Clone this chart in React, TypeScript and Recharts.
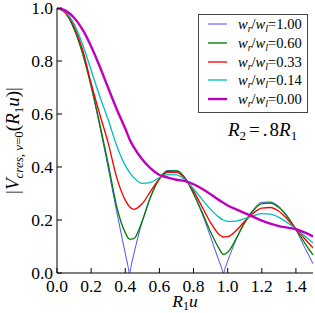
import React from "react";
import { LineChart, Line, XAxis, YAxis, Legend, Customized } from "recharts";

const SERIF = "'Liberation Serif', 'Times New Roman', serif";

// shared sampling in R1*u
const xValues = [0, 0.05, 0.1, 0.15, 0.2, 0.25, 0.3, 0.35, 0.4, 0.425, 0.45, 0.5, 0.55, 0.6, 0.65, 0.7, 0.75, 0.8, 0.85, 0.9, 0.95, 0.975, 1.0, 1.05, 1.1, 1.15, 1.2, 1.25, 1.3, 1.35, 1.4, 1.45, 1.5];

// w_r/w_l = 1.00 goes to zero with sharp cusps, so it gets a few extra samples near them
const blueX = [0, 0.05, 0.1, 0.15, 0.2, 0.25, 0.3, 0.35, 0.4, 0.415, 0.425, 0.435, 0.45, 0.5, 0.55, 0.6, 0.65, 0.7, 0.75, 0.8, 0.85, 0.9, 0.95, 0.965, 0.975, 0.985, 1.0, 1.05, 1.1, 1.15, 1.2, 1.25, 1.3, 1.35, 1.4, 1.45, 1.5];
const ratio100 = [1.0, 0.98, 0.92, 0.826, 0.702, 0.555, 0.396, 0.231, 0.074, 0.029, 0.0, 0.029, 0.071, 0.196, 0.29, 0.357, 0.387, 0.387, 0.36, 0.298, 0.224, 0.136, 0.044, 0.018, 0.0, 0.018, 0.045, 0.127, 0.193, 0.239, 0.267, 0.268, 0.251, 0.215, 0.163, 0.098, 0.035];

const ratio060 = [1.0, 0.981, 0.922, 0.83, 0.707, 0.565, 0.412, 0.25, 0.152, 0.128, 0.13, 0.197, 0.29, 0.355, 0.384, 0.385, 0.358, 0.3, 0.23, 0.155, 0.092, 0.07, 0.078, 0.13, 0.19, 0.236, 0.262, 0.264, 0.247, 0.212, 0.165, 0.115, 0.068];
const ratio033 = [1.0, 0.982, 0.93, 0.843, 0.716, 0.6, 0.49, 0.36, 0.275, 0.25, 0.24, 0.262, 0.31, 0.355, 0.38, 0.38, 0.357, 0.31, 0.25, 0.19, 0.145, 0.136, 0.137, 0.16, 0.195, 0.226, 0.245, 0.247, 0.233, 0.203, 0.166, 0.13, 0.094];
const ratio014 = [1.0, 0.985, 0.94, 0.862, 0.765, 0.668, 0.578, 0.48, 0.405, 0.38, 0.36, 0.338, 0.342, 0.36, 0.371, 0.37, 0.352, 0.318, 0.278, 0.24, 0.21, 0.2, 0.195, 0.196, 0.205, 0.216, 0.224, 0.222, 0.21, 0.19, 0.166, 0.14, 0.114];
const ratio000 = [1.0, 0.99, 0.963, 0.918, 0.855, 0.78, 0.698, 0.618, 0.545, 0.505, 0.475, 0.428, 0.394, 0.37, 0.36, 0.352, 0.347, 0.335, 0.318, 0.297, 0.275, 0.265, 0.255, 0.24, 0.226, 0.212, 0.198, 0.186, 0.177, 0.171, 0.165, 0.153, 0.138];

const xTicks = [0, 0.2, 0.4, 0.6, 0.8, 1.0, 1.2, 1.4];
const yTicks = [0, 0.2, 0.4, 0.6, 0.8, 1.0];

const series = [
  { key: "b", label: "1.00", color: "#4d4dff", width: 1 },
  { key: "g", label: "0.60", color: "#008000", width: 1.35 },
  { key: "r", label: "0.33", color: "#ff0000", width: 1.35 },
  { key: "c", label: "0.14", color: "#00bfbf", width: 1.35 },
  { key: "m", label: "0.00", color: "#bf00bf", width: 2.4 },
];

const data = xValues.map((x, i) => ({
  x,
  g: ratio060[i],
  r: ratio033[i],
  c: ratio014[i],
  m: ratio000[i],
}));
const blueData = blueX.map((x, i) => ({ x, b: ratio100[i] }));

const TICK = 5;

const BottomTick = ({ x, y, payload }: any) => (
  <g>
    <line x1={x} x2={x} y1={y} y2={y - TICK} stroke="#000" />
    <text x={x} y={y + 19} textAnchor="middle" fontSize={17.5} fontFamily={SERIF} fill="#000">
      {Number(payload.value).toFixed(1)}
    </text>
  </g>
);
const TopTick = ({ x, y }: any) => <line x1={x} x2={x} y1={y} y2={y + TICK} stroke="#000" />;
const LeftTick = ({ x, y, payload }: any) => (
  <g>
    <line x1={x} x2={x + TICK} y1={y} y2={y} stroke="#000" />
    <text x={x - 4} y={y} dy="0.35em" textAnchor="end" fontSize={17.5} fontFamily={SERIF} fill="#000">
      {Number(payload.value).toFixed(1)}
    </text>
  </g>
);
const RightTick = ({ x, y }: any) => <line x1={x} x2={x - TICK} y1={y} y2={y} stroke="#000" />;

const subStyle: React.CSSProperties = { fontSize: 10, fontStyle: "italic", position: "relative", top: 3 };

const LegendBox = () => (
  <div
    style={{
      position: "relative",
      width: 110,
      height: 99,
      boxSizing: "border-box",
      border: "1px solid #444",
      background: "#fff",
      fontFamily: SERIF,
      color: "#000",
    }}
  >
    {series.map((s, i) => (
      <div key={s.key} style={{ position: "absolute", left: 0, top: 9 + i * 18.8 - 9, width: 108, height: 18 }}>
        <svg width={22} height={18} style={{ position: "absolute", left: 9, top: 0 }}>
          <line x1={0} x2={19} y1={9} y2={9} stroke={s.color} strokeWidth={s.width} />
        </svg>
        <span style={{ position: "absolute", left: 39, top: 0, lineHeight: "18px", fontSize: 14.5, whiteSpace: "nowrap" }}>
          <i>w</i>
          <span style={subStyle}>r</span>/<i>w</i>
          <span style={subStyle}>l</span>={s.label}
        </span>
      </div>
    ))}
  </div>
);

const Texts = () => (
  <g fontFamily={SERIF} fill="#000">
    <text x={228} y={136} fontSize={19}>
      <tspan fontStyle="italic">R</tspan>
      <tspan fontSize={13} dy={4}>2</tspan>
      <tspan dy={-4} dx={3}>=</tspan>
      <tspan dx={3}>.</tspan>
      <tspan dx={2}>8</tspan>
      <tspan fontStyle="italic">R</tspan>
      <tspan fontSize={13} dy={4}>1</tspan>
    </text>
    <text x={185} y={307} fontSize={17.5} textAnchor="middle">
      <tspan fontStyle="italic">R</tspan>
      <tspan fontSize={12} dy={3}>1</tspan>
      <tspan dy={-3} fontStyle="italic">u</tspan>
    </text>
    <text transform="rotate(-90 19 140.5)" x={19} y={140.5} fontSize={19} textAnchor="middle">
      |<tspan fontStyle="italic">V</tspan>
      <tspan fontSize={13} dy={4} fontStyle="italic">cres, ν</tspan>
      <tspan fontSize={13}>=0</tspan>
      <tspan dy={-4}>(</tspan>
      <tspan fontStyle="italic">R</tspan>
      <tspan fontSize={13} dy={4}>1</tspan>
      <tspan dy={-4} fontStyle="italic">u</tspan>)|
    </text>
  </g>
);

export default function App() {
  return (
    <div style={{ position: "absolute", left: 0, top: 0, background: "#fff" }}>
      <LineChart width={315} height={313} data={data} margin={{ top: 8, right: 2, bottom: 0, left: 0 }}>
        <XAxis
          xAxisId="bottom"
          dataKey="x"
          type="number"
          domain={[0, 1.5]}
          ticks={xTicks}
          interval={0}
          allowDataOverflow
          height={40}
          tickSize={0}
          tickMargin={0}
          tick={<BottomTick />}
          axisLine={{ stroke: "#000", strokeWidth: 1 }}
        />
        <XAxis
          xAxisId="top"
          orientation="top"
          dataKey="x"
          type="number"
          domain={[0, 1.5]}
          ticks={xTicks}
          interval={0}
          allowDataOverflow
          height={0}
          tickSize={0}
          tickMargin={0}
          tick={<TopTick />}
          axisLine={{ stroke: "#000", strokeWidth: 1 }}
        />
        <YAxis
          yAxisId="left"
          type="number"
          domain={[0, 1]}
          ticks={yTicks}
          interval={0}
          allowDataOverflow
          width={57}
          tickSize={0}
          tickMargin={0}
          tick={<LeftTick />}
          axisLine={{ stroke: "#000", strokeWidth: 1 }}
        />
        <YAxis
          yAxisId="right"
          orientation="right"
          type="number"
          domain={[0, 1]}
          ticks={yTicks}
          interval={0}
          allowDataOverflow
          width={0}
          tickSize={0}
          tickMargin={0}
          tick={<RightTick />}
          axisLine={{ stroke: "#000", strokeWidth: 1 }}
        />
        <Line
          xAxisId="bottom"
          yAxisId="left"
          data={blueData}
          dataKey="b"
          type="monotone"
          stroke={series[0].color}
          strokeWidth={series[0].width}
          dot={false}
          isAnimationActive={false}
        />
        {series.slice(1).map((s) => (
          <Line
            key={s.key}
            xAxisId="bottom"
            yAxisId="left"
            dataKey={s.key}
            type="monotone"
            stroke={s.color}
            strokeWidth={s.width}
            dot={false}
            isAnimationActive={false}
          />
        ))}
        <Legend
          layout="vertical"
          align="center"
          verticalAlign="middle"
          content={() => <LegendBox />}
          wrapperStyle={{ left: 198, top: 14, width: 110, height: 99 }}
        />
        <Customized component={<Texts />} />
      </LineChart>
    </div>
  );
}
